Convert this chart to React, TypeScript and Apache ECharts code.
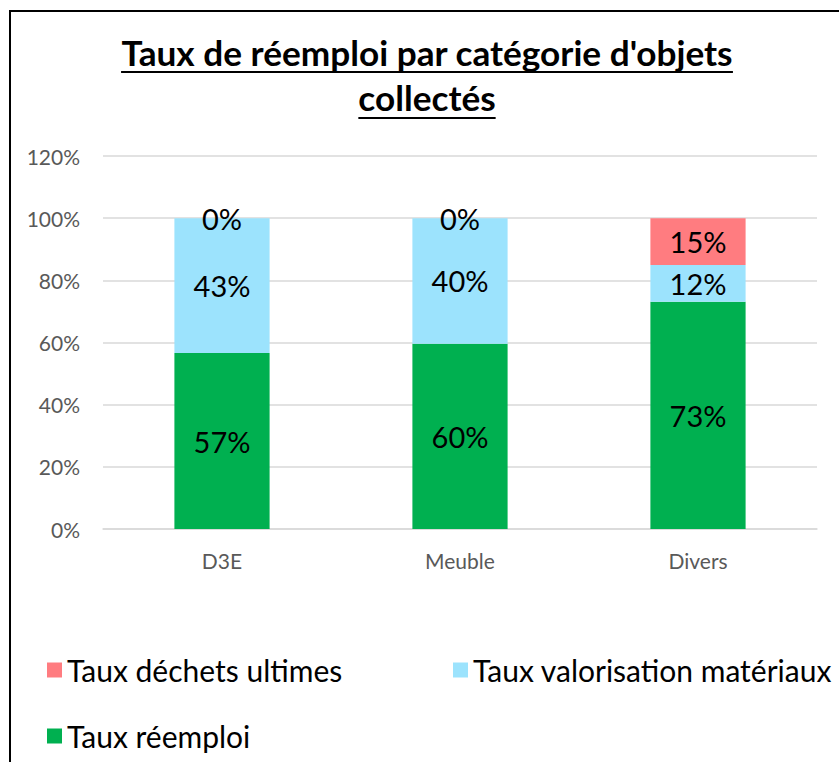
import React, { useEffect, useRef } from "react";
import * as echarts from "echarts";

const categories = ["D3E", "Meuble", "Divers"];
const reemploi = [0.566, 0.596, 0.731];
const valorisation = [0.434, 0.404, 0.118];
const dechets = [0, 0, 0.151];
const seriesNames = ["Taux déchets ultimes", "Taux valorisation matériaux", "Taux réemploi"];
const seriesColors = ["#FF7C80", "#9CE3FD", "#00B050"];
const titleLines = ["Taux de réemploi par catégorie d'objets", "collectés"];

const FONT = "Lato, 'Noto Sans', sans-serif";

function measure(text: string, font: string): number {
  const c = document.createElement("canvas").getContext("2d");
  if (!c) return text.length * 15;
  c.font = font;
  return c.measureText(text).width;
}

export default function App() {
  const ref = useRef<HTMLDivElement>(null);
  useEffect(() => {
    if (!ref.current) return;
    const chart = echarts.init(ref.current, null, { renderer: "svg" });
    const baseW = measure(titleLines[0], "bold 28px Lato");
    const fs = Math.min(40, Math.max(24, (28 * 612) / baseW));
    const titleFont = `bold ${fs.toFixed(1)}px Lato`;
    const cx = 427;
    const w1 = measure(titleLines[0], titleFont);
    const w2 = measure(titleLines[1], titleFont);
    const label = {
      show: true,
      position: "inside",
      color: "#000",
      fontSize: 29,
      fontFamily: FONT,
      formatter: (p: any) => Math.round(p.value * 100) + "%",
    };
    const legendBase = {
      icon: "rect",
      itemWidth: 15,
      itemHeight: 15,
      padding: 0,
      selectedMode: false,
      textStyle: { fontSize: 30, fontFamily: FONT, color: "#000", lineHeight: 30 },
    };
    chart.setOption({
      animation: false,
      grid: { left: 103, right: 22, top: 156, bottom: 233 },
      legend: [
        { ...legendBase, data: [seriesNames[0]], left: 47, top: 655 },
        { ...legendBase, data: [seriesNames[1]], left: 453, top: 655 },
        { ...legendBase, data: [seriesNames[2]], left: 47, top: 721 },
      ],
      xAxis: {
        type: "category",
        data: categories,
        axisLine: { show: true, lineStyle: { color: "#d9d9d9", width: 1.5 } },
        axisTick: { show: false },
        axisLabel: { color: "#595959", fontSize: 21, fontFamily: FONT, margin: 21 },
      },
      yAxis: {
        type: "value",
        min: 0,
        max: 1.2,
        interval: 0.2,
        axisLine: { show: false },
        axisTick: { show: false },
        splitLine: { lineStyle: { color: "#d9d9d9", width: 1.5 } },
        axisLabel: {
          color: "#595959",
          fontSize: 21,
          fontFamily: FONT,
          margin: 23,
          formatter: (v: number) => Math.round(v * 100) + "%",
        },
      },
      series: [
        { name: seriesNames[2], type: "bar", stack: "t", data: reemploi, barWidth: "40%", label, itemStyle: { color: seriesColors[2] } },
        { name: seriesNames[1], type: "bar", stack: "t", data: valorisation, barWidth: "40%", label, itemStyle: { color: seriesColors[1] } },
        { name: seriesNames[0], type: "bar", stack: "t", data: dechets, barWidth: "40%", label, itemStyle: { color: seriesColors[0] } },
      ],
      graphic: [
        {
          type: "rect",
          x: 10,
          y: 11,
          shape: { x: 0, y: 0, width: 900, height: 900 },
          style: { fill: "none", stroke: "#000", lineWidth: 2 },
          silent: true,
          z: 100,
        },
        {
          type: "text",
          x: cx,
          y: 69,
          style: {
            text: titleLines[0],
            font: titleFont,
            fill: "#000",
            align: "center",
            textAlign: "center",
            verticalAlign: "bottom",
            textVerticalAlign: "bottom",
          },
        },
        {
          type: "line",
          shape: { x1: cx - w1 / 2, y1: 72, x2: cx + w1 / 2, y2: 72 },
          style: { stroke: "#000", lineWidth: 2 },
        },
        {
          type: "text",
          x: cx,
          y: 114,
          style: {
            text: titleLines[1],
            font: titleFont,
            fill: "#000",
            align: "center",
            textAlign: "center",
            verticalAlign: "bottom",
            textVerticalAlign: "bottom",
          },
        },
        {
          type: "line",
          shape: { x1: cx - w2 / 2, y1: 118, x2: cx + w2 / 2, y2: 118 },
          style: { stroke: "#000", lineWidth: 2 },
        },
      ],
    });
    return () => chart.dispose();
  }, []);
  return (
    <div
      ref={ref}
      style={{ position: "fixed", left: 0, top: 0, width: 839, height: 762, background: "#fff" }}
    />
  );
}
